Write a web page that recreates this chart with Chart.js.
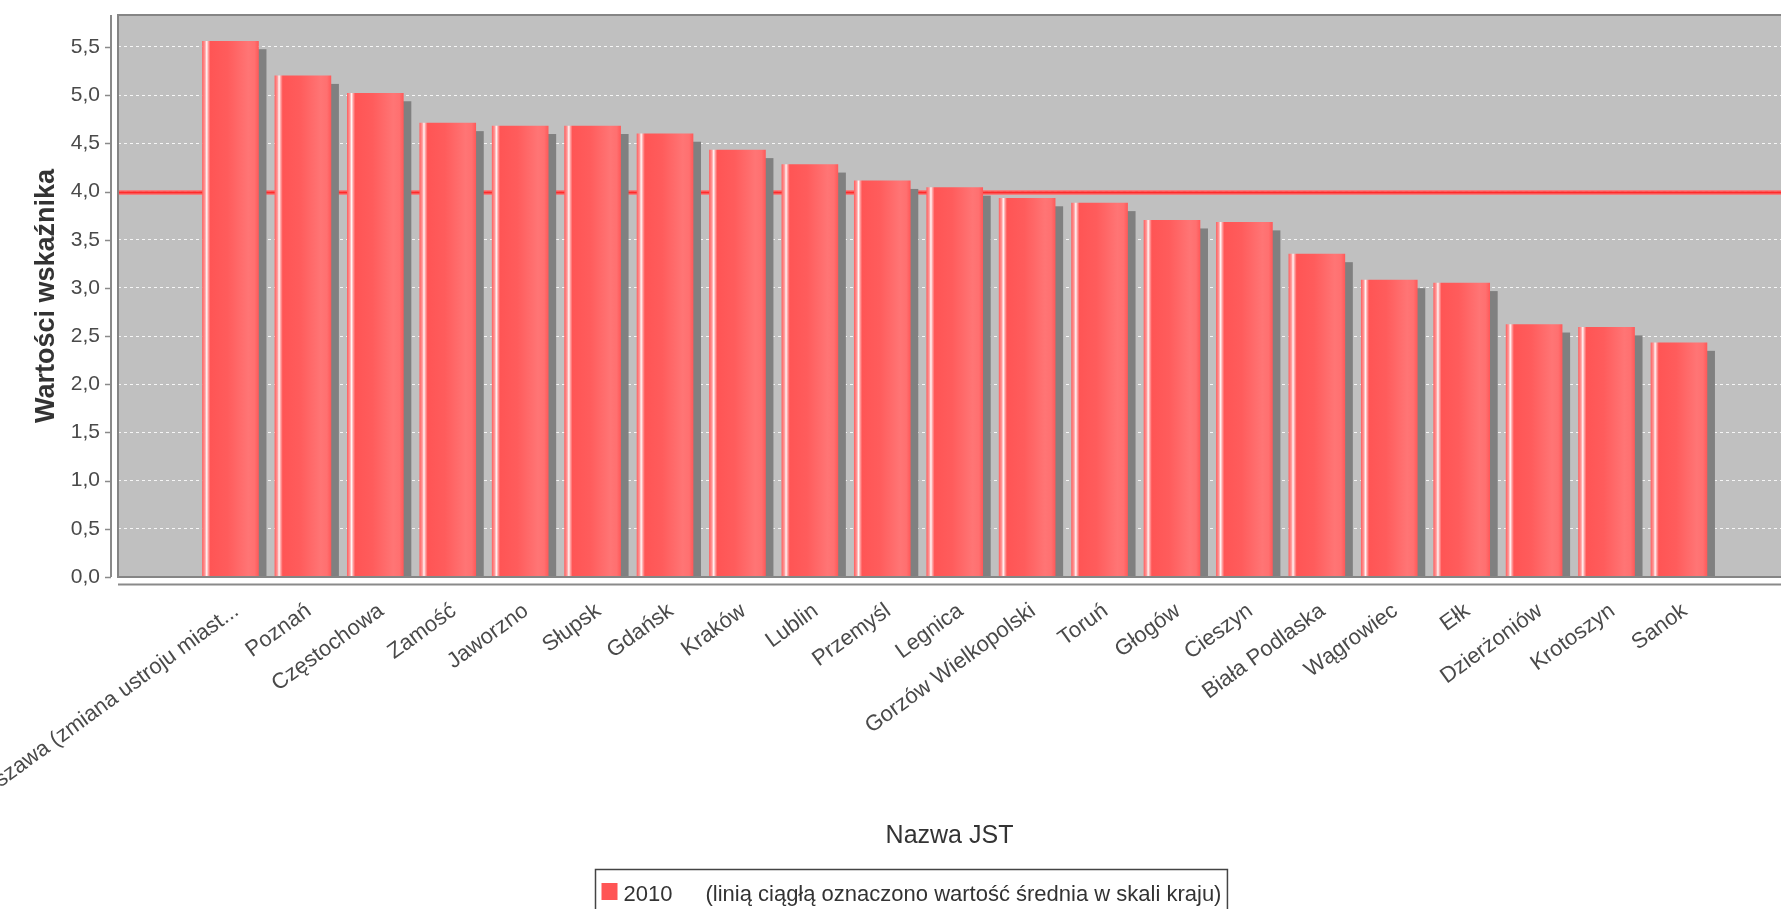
<!DOCTYPE html>
<html><head><meta charset="utf-8">
<script src="https://cdn.jsdelivr.net/npm/chart.js@4.4.0/dist/chart.umd.min.js"></script>
<style>
html,body{margin:0;padding:0;background:#fff;overflow:hidden}
#wrap{position:relative;width:1781px;height:909px}
</style></head><body>
<div id="wrap"><canvas id="c" width="1781" height="909"></canvas></div>
<script>
const categories = ["Warszawa (zmiana ustroju miast...", "Poznań", "Częstochowa", "Zamość", "Jaworzno", "Słupsk", "Gdańsk", "Kraków", "Lublin", "Przemyśl", "Legnica", "Gorzów Wielkopolski", "Toruń", "Głogów", "Cieszyn", "Biała Podlaska", "Wągrowiec", "Ełk", "Dzierżoniów", "Krotoszyn", "Sanok"];
const values2010 = [5.56, 5.20, 5.02, 4.71, 4.68, 4.68, 4.60, 4.43, 4.28, 4.11, 4.04, 3.93, 3.88, 3.70, 3.68, 3.35, 3.08, 3.05, 2.62, 2.59, 2.43];
const nationalAverage = 3.99;
const yTicks = [0, 0.5, 1, 1.5, 2, 2.5, 3, 3.5, 4, 4.5, 5, 5.5];
const seriesLabel = "2010";
const legendNote = "(linią ciągłą oznaczono wartość średnia w skali kraju)";
const xTitle = "Nazwa JST";
const yTitle = "Wartości wskaźnika";

const FONT = '"Liberation Sans", Arial, sans-serif';

const decorPlugin = {
  id: 'decor',
  beforeDraw(chart) {
    const {ctx, chartArea: a} = chart;
    ctx.save();
    ctx.fillStyle = '#c0c0c0';
    ctx.fillRect(a.left, a.top, a.right - a.left, a.bottom - a.top);
    ctx.restore();
  },
  beforeDatasetsDraw(chart) {
    const {ctx, chartArea: a} = chart;
    const ys = chart.scales.y;
    const yAvg = ys.getPixelForValue(nationalAverage);
    ctx.save();
    ctx.beginPath(); ctx.rect(a.left, a.top, a.right - a.left, a.bottom - a.top); ctx.clip();
    ctx.strokeStyle = 'rgba(255,110,110,0.8)';
    ctx.lineWidth = 5;
    ctx.beginPath(); ctx.moveTo(a.left, yAvg); ctx.lineTo(a.right, yAvg); ctx.stroke();
    ctx.strokeStyle = '#ff2a2a';
    ctx.lineWidth = 2;
    ctx.beginPath(); ctx.moveTo(a.left, yAvg); ctx.lineTo(a.right, yAvg); ctx.stroke();
    const meta = chart.getDatasetMeta(0);
    ctx.fillStyle = '#808080';
    meta.data.forEach(el => {
      const p = el.getProps(['x', 'y', 'base', 'width'], true);
      const l = p.x - p.width / 2;
      ctx.fillRect(l + 8, p.y + 8, p.width, p.base - p.y - 8);
      const g = ctx.createLinearGradient(l, 0, l + p.width, 0);
      g.addColorStop(0.00, '#ff6464');
      g.addColorStop(0.045, '#ff9a9a');
      g.addColorStop(0.075, '#fff6f6');
      g.addColorStop(0.105, '#ffa0a0');
      g.addColorStop(0.14, '#ff5555');
      g.addColorStop(0.45, '#ff5c5c');
      g.addColorStop(0.82, '#ff7575');
      g.addColorStop(0.93, '#ff7070');
      g.addColorStop(1.00, '#ff5a5a');
      el.options = Object.assign({}, el.options, {backgroundColor: g});
    });
    ctx.restore();
  },
  afterDatasetsDraw(chart) {
    const {ctx, chartArea: a} = chart;
    const ys = chart.scales.y;
    ctx.save();
    ctx.strokeStyle = '#858585';
    ctx.lineWidth = 2;
    ctx.beginPath();
    ctx.moveTo(a.right + 2, a.top); ctx.lineTo(a.left, a.top); ctx.lineTo(a.left, a.bottom); ctx.lineTo(a.right + 2, a.bottom);
    ctx.stroke();
    ctx.strokeStyle = '#8a8a8a';
    ctx.lineWidth = 2;
    ctx.beginPath(); ctx.moveTo(a.left - 7, a.top); ctx.lineTo(a.left - 7, a.bottom); ctx.stroke();
    ctx.beginPath(); ctx.moveTo(a.left, a.bottom + 7.5); ctx.lineTo(a.right + 2, a.bottom + 7.5); ctx.stroke();
    ctx.lineWidth = 1.5;
    yTicks.forEach(v => {
      const py = Math.round(ys.getPixelForValue(v)) + 0.5;
      ctx.beginPath(); ctx.moveTo(a.left - 13, py); ctx.lineTo(a.left - 7, py); ctx.stroke();
    });
    ctx.restore();
  },
  afterDraw(chart) {
    const {ctx} = chart;
    ctx.save();
    ctx.font = '22px ' + FONT;
    const w1 = ctx.measureText(seriesLabel).width;
    const w2 = ctx.measureText(legendNote).width;
    const gap = 33;
    const boxW = 6 + 16 + 6 + w1 + gap + w2 + 6;
    const left = Math.round(911 - boxW / 2) + 0.5;
    ctx.strokeStyle = '#444';
    ctx.lineWidth = 1.5;
    ctx.strokeRect(left, 869.5, boxW, 60);
    ctx.fillStyle = '#ff5555';
    ctx.fillRect(left + 6, 883, 16, 17);
    ctx.fillStyle = '#333';
    ctx.textBaseline = 'alphabetic';
    ctx.fillText(seriesLabel, left + 28, 901);
    ctx.fillText(legendNote, left + 28 + w1 + gap, 901);
    ctx.restore();
  }
};

new Chart(document.getElementById('c'), {
  type: 'bar',
  data: {
    datasets: [{
      label: seriesLabel,
      data: values2010.map((v, i) => ({x: i, y: v})),
      backgroundColor: () => '#ff5555',
      borderWidth: 0,
      barThickness: 56
    }]
  },
  options: {
    responsive: false,
    animation: false,
    devicePixelRatio: 1,
    layout: {padding: {top: 15, left: 0, right: 0, bottom: 0}},
    plugins: {legend: {display: false}, tooltip: {enabled: false}},
    scales: {
      x: {
        type: 'linear',
        min: -1.553,
        max: 21.409,
        offset: false,
        grid: {display: false},
        border: {display: false},
        afterBuildTicks: s => { s.ticks = categories.map((c, i) => ({value: i})); },
        ticks: {
          autoSkip: false, minRotation: 36, maxRotation: 36, padding: 13, labelOffset: 6,
          color: '#4a4a4a', font: {family: FONT, size: 22},
          callback: v => categories[v] !== undefined ? categories[v] : ''
        },
        title: {display: true, text: xTitle, color: '#333', font: {family: FONT, size: 25}, padding: {top: 0, bottom: 58}},
        afterFit: s => { s.height = 332; s.paddingLeft = 0; s.paddingRight = 0; }
      },
      y: {
        min: 0,
        max: 5.832,
        afterBuildTicks: s => { s.ticks = yTicks.map(v => ({value: v})); },
        grid: {color: 'rgba(255,255,255,0.85)', lineWidth: 1, drawTicks: false},
        border: {display: false, dash: [3, 3]},
        ticks: {
          padding: 18, color: '#4a4a4a', font: {family: FONT, size: 21},
          callback: v => Number(v).toFixed(1).replace('.', ',')
        },
        title: {display: true, text: yTitle, color: '#333', font: {family: FONT, size: 27, weight: 'bold'}, padding: {top: 30, bottom: 0}},
        afterFit: s => { s.width = 118; s.paddingTop = 0; s.paddingBottom = 0; }
      }
    }
  },
  plugins: [decorPlugin]
});
</script>
</body></html>
